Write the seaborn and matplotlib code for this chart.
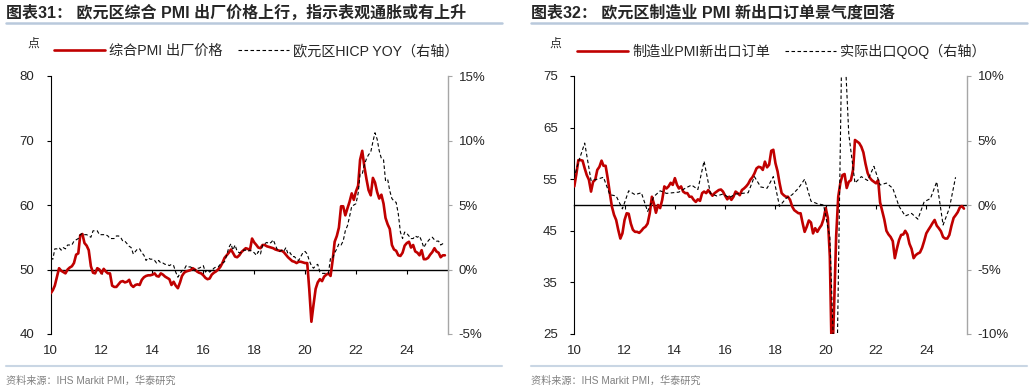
import numpy as np
import pandas as pd
import matplotlib
matplotlib.use('Agg')
import matplotlib.pyplot as plt
from matplotlib.lines import Line2D
from matplotlib.ticker import FuncFormatter, FixedLocator
import matplotlib.dates as mdates
import seaborn as sns

sns.set_style('white')
plt.rcParams['font.family'] = ['Liberation Sans', 'Noto Sans CJK SC', 'DejaVu Sans']
plt.rcParams['axes.unicode_minus'] = False

RED = '#c00000'

# monthly axis 2010-01 .. 2025-07, quarterly points at quarter-end months
months = pd.date_range('2010-01-01', periods=187, freq='MS')
quarters = pd.date_range('2009-12-01', periods=62, freq='3MS')

# chart 31: composite PMI output prices (left axis, pts)
pmi_output_prices = [
    46.3, 46.8, 47.5, 48.9, 50.2, 49.8, 49.6, 49.4, 50.0, 50.3, 50.5, 51.0,
    52.3, 52.5, 55.3, 55.5, 54.1, 53.7, 53.0, 50.5, 49.5, 49.4, 50.2, 50.0,
    49.4, 50.1, 49.7, 49.4, 49.4, 47.5, 47.3, 47.3, 47.7, 48.1, 48.2, 48.0,
    48.1, 48.4, 47.6, 47.3, 47.6, 47.7, 47.6, 48.4, 48.8, 49.0, 49.1, 49.1,
    49.2, 49.4, 49.0, 48.9, 49.4, 49.2, 48.9, 48.7, 48.5, 47.6, 48.1, 47.5,
    47.1, 48.0, 49.0, 49.5, 49.7, 49.8, 49.9, 50.2, 50.0, 49.7, 49.5, 49.4,
    49.1, 48.7, 48.5, 48.6, 49.2, 49.5, 49.7, 50.0, 50.4, 51.0, 51.8, 52.2,
    52.6, 53.1, 52.6, 52.0, 51.9, 52.2, 52.7, 53.0, 53.3, 53.2, 53.0, 54.8,
    54.2, 53.8, 53.4, 53.3, 53.8, 53.8, 53.6, 53.5, 53.4, 53.3, 53.1, 53.0,
    52.9, 52.9, 52.7, 52.3, 51.9, 51.6, 51.3, 51.2, 51.0, 51.2, 51.2, 51.1,
    51.0, 51.0, 47.0, 41.9, 44.5, 47.0, 48.0, 48.5, 48.2, 48.9, 49.2, 49.4,
    49.0, 51.5, 54.3, 55.2, 56.5, 59.8, 59.8, 58.4, 59.5, 60.5, 61.8, 60.8,
    62.1, 63.0, 67.0, 68.4, 66.0, 64.0, 62.3, 61.5, 64.2, 63.5, 62.0, 61.0,
    61.6, 60.2, 58.0, 57.0, 56.3, 53.8, 53.1, 52.9, 52.2, 52.1, 52.6, 53.7,
    54.1, 54.3, 53.4, 53.8, 52.8, 52.6, 52.2, 53.0, 51.6, 51.6, 51.8, 52.3,
    52.7, 53.3, 52.8, 52.6, 51.9, 52.2, 52.2,
]

# euro area HICP YoY (right axis, %)
hicp_yoy = [
    0.9, 0.8, 1.6, 1.6, 1.7, 1.5, 1.7, 1.6, 1.9, 1.9, 1.9, 2.2,
    2.3, 2.4, 2.7, 2.8, 2.7, 2.7, 2.6, 2.5, 3.0, 3.0, 3.0, 2.7,
    2.7, 2.7, 2.7, 2.6, 2.4, 2.4, 2.4, 2.6, 2.6, 2.5, 2.2, 2.2,
    2.0, 1.8, 1.7, 1.2, 1.4, 1.6, 1.6, 1.3, 1.1, 0.7, 0.9, 0.8,
    0.8, 0.7, 0.5, 0.7, 0.5, 0.5, 0.4, 0.4, 0.3, 0.4, 0.3, -0.2,
    -0.6, -0.3, -0.1, 0.0, 0.3, 0.2, 0.2, 0.1, -0.1, 0.1, 0.1, 0.2,
    0.3, -0.2, 0.0, -0.2, -0.1, 0.1, 0.2, 0.2, 0.4, 0.5, 0.6, 1.1,
    1.7, 2.0, 1.5, 1.9, 1.4, 1.3, 1.3, 1.5, 1.5, 1.4, 1.5, 1.4,
    1.3, 1.1, 1.4, 1.2, 1.9, 2.0, 2.1, 2.0, 2.1, 2.3, 1.9, 1.5,
    1.4, 1.5, 1.4, 1.7, 1.2, 1.3, 1.0, 1.0, 0.8, 0.7, 1.0, 1.3,
    1.4, 1.2, 0.7, 0.3, 0.1, 0.3, 0.4, -0.2, -0.3, -0.3, -0.3, -0.3,
    0.9, 0.9, 1.3, 1.6, 2.0, 1.9, 2.2, 3.0, 3.4, 4.1, 4.9, 5.0,
    5.1, 5.9, 7.4, 7.4, 8.1, 8.6, 8.9, 9.1, 9.9, 10.6, 10.1, 9.2,
    8.6, 8.5, 6.9, 7.0, 6.1, 5.5, 5.3, 5.2, 4.3, 2.9, 2.4, 2.9,
    2.8, 2.6, 2.4, 2.4, 2.6, 2.5, 2.6, 2.2, 1.7, 2.0, 2.2, 2.4,
    2.5, 2.3, 2.2, 2.2, 1.9, 2.0, 2.0,
]

# chart 32: manufacturing PMI new export orders (left axis, pts)
pmi_new_export = [
    53.6, 56.1, 58.7, 58.7, 58.6, 57.1, 55.8, 54.9, 52.6, 54.5, 54.9, 56.8,
    57.4, 58.6, 57.6, 57.6, 55.2, 52.3, 49.7, 48.1, 47.1, 45.2, 43.5, 44.5,
    47.1, 48.4, 48.3, 46.4, 45.2, 44.8, 44.8, 44.6, 45.0, 45.5, 45.8, 46.4,
    48.4, 51.6, 50.3, 48.5, 50.0, 49.4, 51.0, 53.6, 53.2, 53.6, 54.3, 53.9,
    55.2, 53.9, 53.2, 53.6, 52.6, 52.3, 52.3, 51.6, 51.6, 51.0, 50.6, 51.1,
    50.8, 52.3, 52.6, 52.3, 52.9, 52.3, 51.8, 52.3, 52.6, 52.9, 53.0, 52.6,
    51.8, 51.1, 51.6, 51.0, 51.6, 52.6, 52.3, 51.9, 52.9, 53.2, 53.6, 54.1,
    54.9, 55.4, 56.1, 57.1, 57.4, 57.3, 56.8, 58.4, 57.3, 57.8, 60.5, 60.7,
    58.1, 56.5, 54.3, 52.3, 51.9, 51.6, 51.6, 51.0, 49.7, 49.0, 48.7, 48.4,
    48.4, 46.4, 44.8, 45.8, 47.0, 46.6, 44.5, 45.5, 44.8, 45.5, 46.1, 47.3,
    49.4, 47.5, 40.0, 18.0, 30.0, 44.0, 51.6, 54.3, 55.8, 56.0, 53.3, 54.5,
    54.8, 56.8, 62.6, 62.3, 62.0, 61.3, 60.2, 58.0, 56.2, 55.3, 54.8, 54.5,
    54.2, 54.8, 50.5, 48.8, 47.2, 45.0, 44.3, 43.8, 43.0, 39.7, 41.6, 43.2,
    44.2, 44.3, 45.0, 44.3, 42.5, 41.5, 39.7, 40.3, 40.6, 40.8, 41.7, 43.0,
    44.5, 45.2, 45.8, 46.5, 47.1, 46.0, 45.5, 44.9, 43.8, 43.5, 43.5, 44.2,
    46.0, 47.5, 48.0, 48.6, 49.5, 49.8, 49.3,
]

# real exports QoQ (right axis, %), 2009Q4 .. 2025Q1
export_qoq = [
    1.6, 3.3, 4.8, 1.9, 2.0, 2.15, 0.8, 0.7, -0.3, 1.1, 0.8, 0.95,
    -0.5, 0.65, 1.1, 0.9, 0.95, 1.0, 1.3, 1.55, 1.2, 3.4, 0.9, 0.7,
    0.85, 0.57, 0.85, 0.9, 0.95, 2.2, 1.4, 1.3, 2.2, -0.1, 0.5, 0.8,
    1.3, 2.0, 0.3, 0.1, 0.0, -2.5, -17.0, 16.0, 5.5, 1.7, 2.2, 1.9,
    3.0, 1.55, 1.7, 1.3, -0.1, -0.85, -0.65, -1.1, 0.25, 0.5, 1.8, -1.55,
    -0.25, 2.15,
]

W, H = 1030, 392
fig = plt.figure(figsize=(W / 100, H / 100), dpi=100)


def panel(rect, pmi, ext_x, ext_y, ylim, yticks, y2lim, y2ticks):
    ax = fig.add_axes(rect)
    sns.lineplot(x=months, y=pmi, ax=ax, color=RED, lw=1.9, zorder=3)
    ax2 = ax.twinx()
    sns.lineplot(x=ext_x, y=ext_y, ax=ax2, color='black', lw=0.8,
                 linestyle=(0, (3.2, 2.2)))
    ax.set_xlim(pd.Timestamp('2010-01-01'), pd.Timestamp('2025-08-10'))
    ax.set_ylim(*ylim)
    ax2.set_ylim(*y2lim)
    ax.set(xlabel='', ylabel='')
    ax2.set(xlabel='', ylabel='')
    ax.yaxis.set_major_locator(FixedLocator(yticks))
    ax2.yaxis.set_major_locator(FixedLocator(y2ticks))
    ax2.yaxis.set_major_formatter(FuncFormatter(lambda v, p: f'{v:.0f}%'))
    ax.xaxis.set_major_locator(mdates.YearLocator(2))
    ax.xaxis.set_major_formatter(mdates.DateFormatter('%y'))

    for s in ['top', 'right']:
        ax.spines[s].set_visible(False)
    ax.spines['left'].set_color('black')
    ax.spines['left'].set_linewidth(0.8)
    ax.spines['bottom'].set_position(('data', 50))
    ax.spines['bottom'].set_color('black')
    ax.spines['bottom'].set_linewidth(1.0)
    for s in ['top', 'left', 'bottom']:
        ax2.spines[s].set_visible(False)
    ax2.spines['right'].set_color('#a6a6a6')
    ax2.spines['right'].set_linewidth(1.0)

    ax.tick_params(axis='y', direction='out', length=3, width=0.8,
                   color='black', labelsize=9.5, pad=9, left=True)
    ax.tick_params(axis='x', direction='out', length=3, width=0.8,
                   color='black', bottom=True, labelbottom=False)
    ax2.tick_params(axis='y', direction='out', length=3, width=0.8,
                    color='#a6a6a6', labelsize=9.5, pad=5, right=True)
    # year labels sit at the bottom of the plot, below the 50 line
    ax2.xaxis.set_visible(True)
    ax2.tick_params(axis='x', length=0, labelbottom=True, labelsize=9.5, pad=8)
    for lab in ax2.get_xticklabels():
        lab.set_family(['Liberation Sans Narrow', 'Liberation Sans'])
    ax.grid(False)
    ax2.grid(False)
    return ax, ax2


def frame(x0, x1, title, point_x, leg_x, labels, handles):
    fig.text(x0 / W, 1 - 13 / H, title, fontsize=11.5, fontweight='bold',
             va='center', ha='left')
    fig.add_artist(Line2D([x0 / W, x1 / W], [1 - 23 / H] * 2,
                          transform=fig.transFigure, color='#b9c9dc', lw=1.8))
    fig.text(point_x / W, 1 - 44 / H, '点', fontsize=8.5, va='center')
    fig.legend(handles, labels, loc='center left',
               bbox_to_anchor=(leg_x / W, 1 - 51 / H), ncol=2, frameon=False,
               fontsize=10.2, handlelength=3.6, handletextpad=0.3,
               columnspacing=1.05, borderpad=0, borderaxespad=0)
    fig.add_artist(Line2D([x0 / W, x1 / W], [1 - 366 / H] * 2,
                          transform=fig.transFigure, color='#c9d6e4', lw=1.5))
    fig.text(x0 / W, 1 - 381 / H, '资料来源：IHS Markit PMI，华泰研究',
             fontsize=7.3, color='#808080', va='center')


bottom = 1 - 334 / H
height = 258 / H

ax_a, ax_a2 = panel([50.7 / W, bottom, 397 / W, height], pmi_output_prices,
                    months, hicp_yoy, (40, 80), [40, 50, 60, 70, 80],
                    (-5, 15), [-5, 0, 5, 10, 15])
frame(6, 502, '图表31： 欧元区综合 PMI 出厂价格上行，指示表观通胀或有上升', 27, 54,
      ['综合PMI 出厂价格', '欧元区HICP YOY（右轴）'],
      [ax_a.lines[0], ax_a2.lines[0]])

ax_b, ax_b2 = panel([574.3 / W, bottom, 392.4 / W, height], pmi_new_export,
                    quarters, export_qoq, (25, 75), [25, 35, 45, 55, 65, 75],
                    (-10, 10), [-10, -5, 0, 5, 10])
frame(531, 1027, '图表32： 欧元区制造业 PMI 新出口订单景气度回落', 549, 577,
      ['制造业PMI新出口订单', '实际出口QOQ（右轴）'],
      [ax_b.lines[0], ax_b2.lines[0]])

fig.savefig('out.png', dpi=100)
